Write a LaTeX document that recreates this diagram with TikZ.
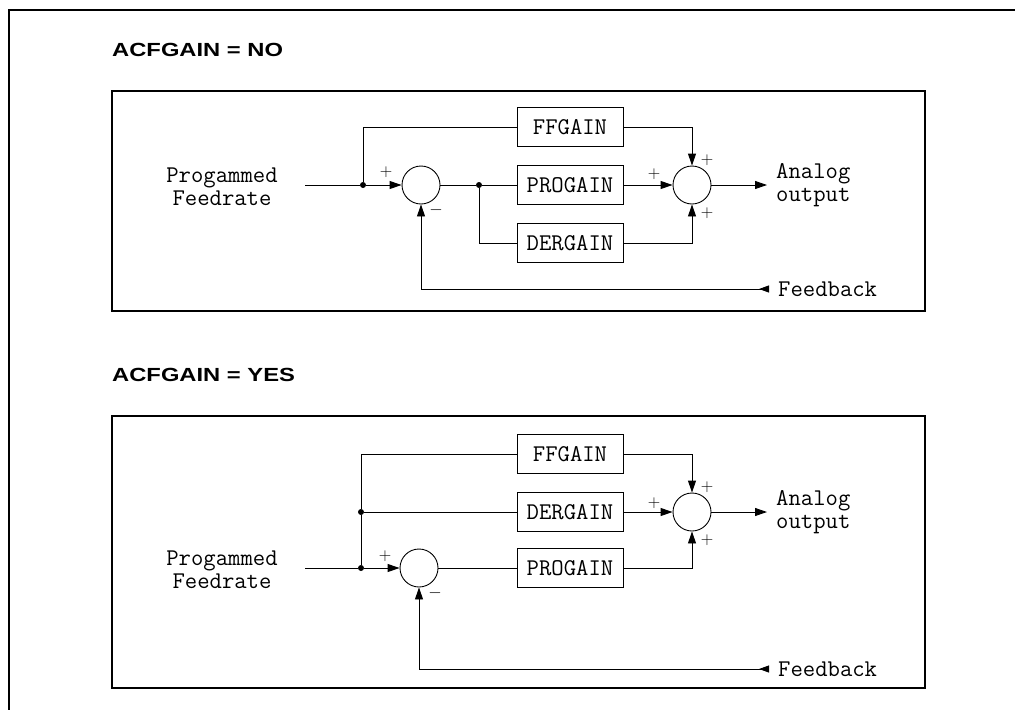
\documentclass[tikz,border=0pt]{standalone}
\usepackage{fontspec}
\newfontfamily\titlefont[FakeStretch=1.25]{Liberation Sans}
\usetikzlibrary{arrows.meta}
\begin{document}
\begin{tikzpicture}[
        x=1pt, y=-1pt,
        >={Triangle[length=12pt,width=8pt]},
        frame/.style={line width=2.4pt},
        title/.style={anchor=base west, inner sep=0pt, font=\titlefont\bfseries\fontsize{19}{21}\selectfont},
        txt/.style={font=\ttfamily\fontsize{24}{23}\selectfont, inner sep=2pt},
        side/.style={txt, anchor=west, align=left, inner xsep=9pt},
        gain/.style={txt, draw, line width=0.9pt, minimum width=106pt, minimum height=39pt, inner sep=0pt},
        sum/.style={draw, circle, line width=0.9pt, minimum size=38pt, inner sep=0pt},
        dot/.style={circle, fill, inner sep=0pt, minimum size=6pt},
        sign/.style={font=\fontsize{19}{21}\selectfont, inner sep=0pt},
        wire/.style={line width=0.9pt},
        flow/.style={->, line width=0.9pt},
        fbflow/.style={{Triangle[length=10pt,width=7pt,reversed]}-{Triangle[length=12pt,width=8pt]}, line width=0.9pt}
    ]
        \useasboundingbox (0,0) rectangle (1015,710);
        \draw[frame] (1015,10) -- (9,10) -- (9,710);

        \node[title] (t1) at (112,56) {ACFGAIN = NO};
        \draw[frame] (112,91) rectangle (925,311);

        \node[txt, align=center] (in1) at (222,187) {Progammed\\Feedrate};
        \coordinate (a1) at (305,185);
        \node[dot] (d1) at (363,185) {};
        \node[sum] (s1) at (421,185) {};
        \node[dot] (d2) at (479,185) {};
        \node[gain] (ff1) at (570,127) {FFGAIN};
        \node[gain] (pg1) at (570,185) {PROGAIN};
        \node[gain] (dg1) at (570,243) {DERGAIN};
        \node[sum] (s2) at (692,185) {};
        \node[side] (out1) at (767,185) {Analog\\output};
        \node[side] (fb1) at (769,289) {Feedback};

        \node[sign] at (386,172) {$+$};
        \node[sign] at (436,210) {$-$};
        \node[sign] at (654,174) {$+$};
        \node[sign] at (707,160) {$+$};
        \node[sign] at (707,213) {$+$};

        \draw[wire] (a1) -- (d1);
        \draw[flow] (d1) -- (s1);
        \draw[wire] (d1) |- (ff1);
        \draw[wire] (s1) -- (d2);
        \draw[wire] (d2) -- (pg1);
        \draw[wire] (d2) |- (dg1);
        \draw[flow] (ff1) -| (s2);
        \draw[flow] (pg1) -- (s2);
        \draw[flow] (dg1) -| (s2);
        \draw[flow] (s2) -- (out1);
        \draw[fbflow] (fb1) -| (s1);

        \node[title] (t2) at (112,381) {ACFGAIN = YES};
        \draw[frame] (112,416) rectangle (925,688);

        \node[txt, align=center] (in2) at (222,570) {Progammed\\Feedrate};
        \coordinate (a2) at (305,568);
        \node[dot] (d3) at (361,568) {};
        \node[dot] (d4) at (361,512) {};
        \node[sum] (s3) at (419,568) {};
        \node[gain] (ff2) at (570,454) {FFGAIN};
        \node[gain] (dg2) at (570,512) {DERGAIN};
        \node[gain] (pg2) at (570,568) {PROGAIN};
        \node[sum] (s4) at (692,512) {};
        \node[side] (out2) at (767,512) {Analog\\output};
        \node[side] (fb2) at (769,669) {Feedback};

        \node[sign] at (385,556) {$+$};
        \node[sign] at (435,593) {$-$};
        \node[sign] at (654,503) {$+$};
        \node[sign] at (707,487) {$+$};
        \node[sign] at (707,540) {$+$};

        \draw[wire] (a2) -- (d3);
        \draw[flow] (d3) -- (s3);
        \draw[wire] (d3) -- (d4);
        \draw[wire] (d4) |- (ff2);
        \draw[wire] (d4) -- (dg2);
        \draw[wire] (s3) -- (pg2);
        \draw[flow] (ff2) -| (s4);
        \draw[flow] (dg2) -- (s4);
        \draw[flow] (pg2) -| (s4);
        \draw[flow] (s4) -- (out2);
        \draw[fbflow] (fb2) -| (s3);
    \end{tikzpicture}
\end{document}
